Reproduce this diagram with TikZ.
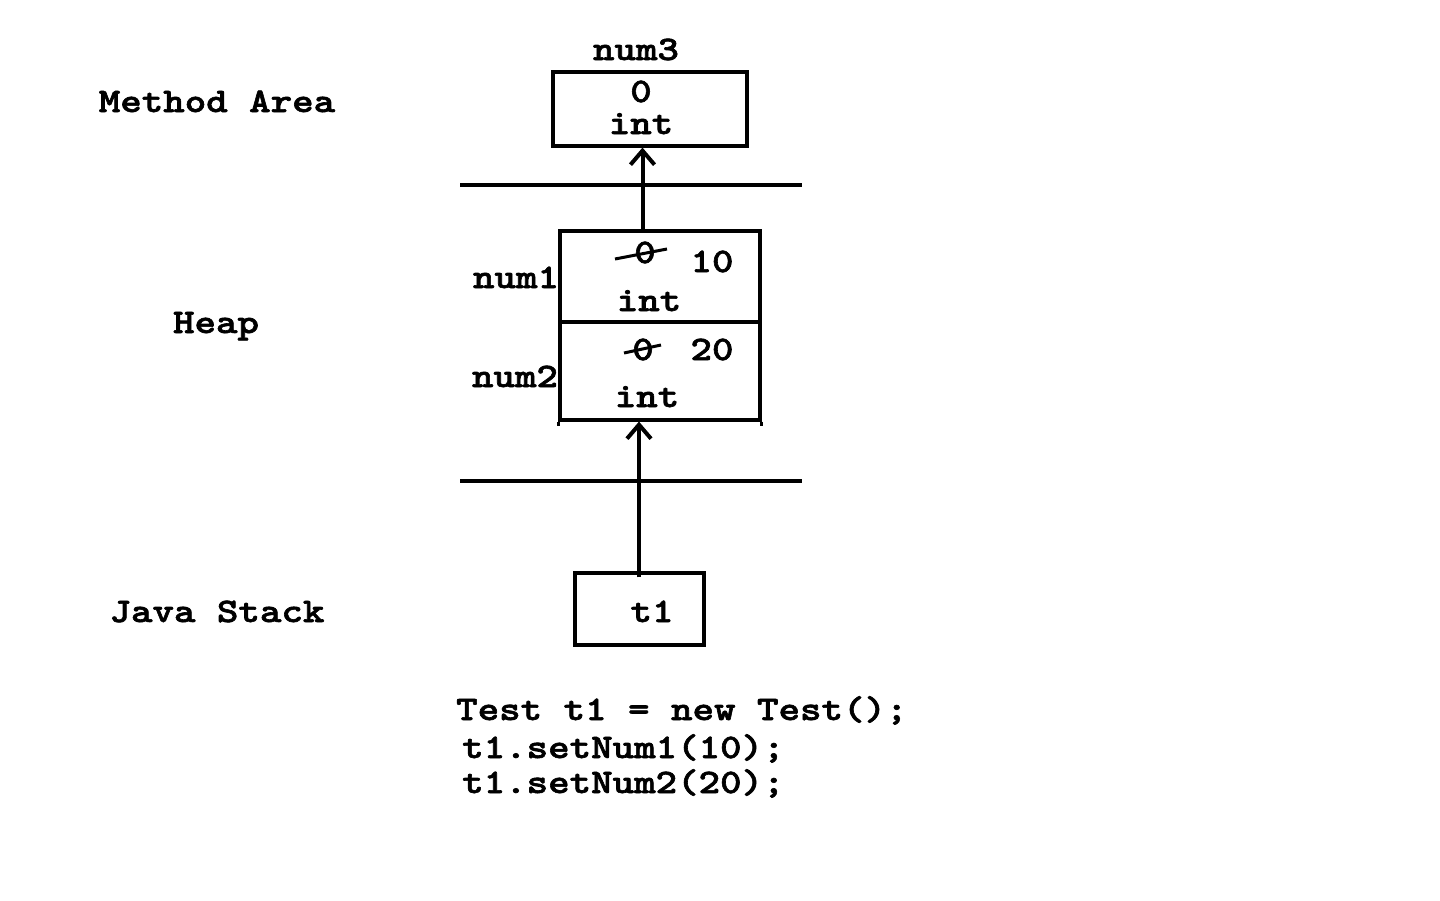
\documentclass[tikz,border=0pt]{standalone}
\usepackage{fontspec}
\newfontfamily\cb{lmmonolt10-bold.otf}[FakeStretch=1.19,FakeBold=1.8]
\usetikzlibrary{arrows.meta,calc}
\begin{document}
\begin{tikzpicture}[x=1pt,y=-1pt,
  txt/.style={inner sep=0pt,anchor=base,font=\cb\fontsize{34.4}{37}\selectfont},
  box/.style={draw,line width=3.2pt,inner sep=0pt,minimum width=#1},
  arr/.style={line width=4pt,-{Straight Barb[length=14pt,width=24pt,line width=4pt]}},
  sep/.style={line width=4pt},
  strike/.style={line width=3pt}]
\useasboundingbox (0,0) rectangle (1440,900);
% region labels
\node[txt] (ma) at (217,112) {Method Area};
\node[txt] (hp) at (216,333) {Heap};
\node[txt] (js) at (217,622) {Java Stack};
% separators
\coordinate (s1l) at (460,185); \coordinate (s1r) at (802,185);
\coordinate (s2l) at (460,481); \coordinate (s2r) at (802,481);
\draw[sep] (s1l) -- (s1r);
\draw[sep] (s2l) -- (s2r);
% method area box
\node[box=194pt,minimum height=74pt] (num3) at (650,109) {};
\node[txt] (n3lab) at (636,60) {num3};
\node[txt] (n3val) at (641,102) {0};
\node[txt] (n3int) at (641,134) {int};
% heap boxes
\node[box=200pt,minimum height=91pt] (h1) at (660,276.5) {};
\node[box=200pt,minimum height=98pt] (h2) at (660,371) {};
\draw[line width=3.2pt] (h2.south west) -- ++(0,4);
\draw[line width=3.2pt] (h2.south east) -- ++(0,4);
\node[txt] (n1lab) at (516,288) {num1};
\node[txt] (n1old) at (645,263) {0};
\node[txt] (n1new) at (712,272) {10};
\node[txt] (n1int) at (649,311) {int};
\draw[strike] ($(n1old.base)+(-30,-4)$) -- ($(n1old.base)+(22,-14)$);
\node[txt] (n2lab) at (515,387) {num2};
\node[txt] (n2old) at (643,360) {0};
\node[txt] (n2new) at (712,360) {20};
\node[txt] (n2int) at (647,407) {int};
\draw[strike] ($(n2old.base)+(-19,-7)$) -- ($(n2old.base)+(18,-15)$);
% stack box
\node[box=129pt,minimum height=72pt] (t1box) at (639.5,609) {};
\node[txt] (t1lab) at (652,622) {t1};
% arrows
\coordinate (a1x) at (642.5,0);
\draw[arr] (h1.north -| a1x) -- (num3.south -| a1x);
\coordinate (a2x) at (639,0);
\draw[arr] ($(t1box.north -| a2x)+(0,6)$) -- (h2.south -| a2x);
% code
\node[txt,anchor=base west] (c1) at (456,720) {Test t1 = new Test();};
\node[txt,anchor=base west] (c2) at (462,758) {t1.setNum1(10);};
\node[txt,anchor=base west] (c3) at (462,793) {t1.setNum2(20);};
\end{tikzpicture}
\end{document}
